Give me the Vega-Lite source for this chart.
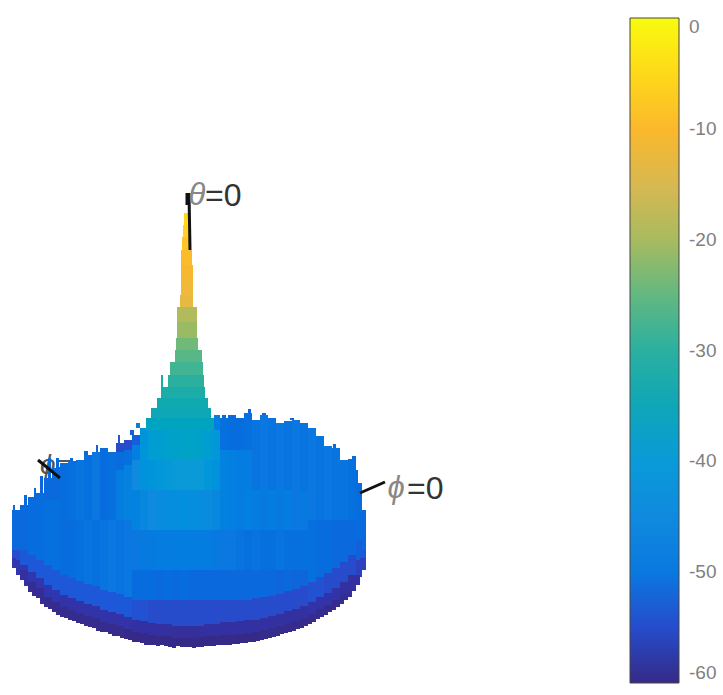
{"$schema":"https://vega.github.io/schema/vega-lite/v6.json","width":723,"height":695,"autosize":"none","padding":0,"background":"white","config":{"view":{"stroke":null}},
"datasets":{
"lines":[{"x":38,"y":460,"x2":60,"y2":478},{"x":189,"y":193,"x2":190,"y2":250},{"x":187,"y":193,"x2":187,"y2":205},{"x":360,"y":493,"x2":385,"y2":482}],
"ticks":[{"x":673,"x2":679,"y":129},{"x":673,"x2":679,"y":240},{"x":673,"x2":679,"y":351},{"x":673,"x2":679,"y":461},{"x":673,"x2":679,"y":572}],
"symbols":[{"x":197,"y":196,"t":"θ"},{"x":396,"y":489,"t":"ϕ"}],
"labels":[{"x":205,"y":196,"t":"=0"},{"x":407,"y":489,"t":"=0"}],
"hidden":[{"x":40,"y":466,"t":"ϕ="}],
"surface":[
{"x":12,"x2":20,"y":510,"y2":550,"db":-52},{"x":12,"x2":20,"y":550,"y2":560,"db":-55},
{"x":20,"x2":28,"y":505,"y2":550,"db":-52},{"x":20,"x2":28,"y":550,"y2":565,"db":-54},{"x":20,"x2":28,"y":565,"y2":572,"db":-57},
{"x":28,"x2":36,"y":497,"y2":555,"db":-51.5},{"x":28,"x2":36,"y":555,"y2":572,"db":-54},{"x":28,"x2":36,"y":572,"y2":584,"db":-57},
{"x":36,"x2":44,"y":493,"y2":560,"db":-51.5},{"x":36,"x2":44,"y":560,"y2":578,"db":-54},{"x":36,"x2":44,"y":578,"y2":590,"db":-57},
{"x":44,"x2":52,"y":478,"y2":500,"db":-52},{"x":44,"x2":52,"y":500,"y2":565,"db":-51},{"x":44,"x2":52,"y":565,"y2":585,"db":-54},{"x":44,"x2":52,"y":585,"y2":599,"db":-57},
{"x":52,"x2":60,"y":468,"y2":500,"db":-52},{"x":52,"x2":60,"y":500,"y2":570,"db":-51},{"x":52,"x2":60,"y":570,"y2":590,"db":-54},{"x":52,"x2":60,"y":590,"y2":604,"db":-57},
{"x":60,"x2":68,"y":463,"y2":520,"db":-51.5},{"x":60,"x2":68,"y":520,"y2":575,"db":-51.5},{"x":60,"x2":68,"y":575,"y2":595,"db":-54},{"x":60,"x2":68,"y":595,"y2":609,"db":-57.5},
{"x":68,"x2":76,"y":461,"y2":520,"db":-51},{"x":68,"x2":76,"y":520,"y2":578,"db":-51.5},{"x":68,"x2":76,"y":578,"y2":598,"db":-54},{"x":68,"x2":76,"y":598,"y2":612,"db":-57.5},
{"x":76,"x2":84,"y":460,"y2":520,"db":-50.5},{"x":76,"x2":84,"y":520,"y2":581,"db":-51},{"x":76,"x2":84,"y":581,"y2":601,"db":-54},{"x":76,"x2":84,"y":601,"y2":615,"db":-57.5},
{"x":84,"x2":92,"y":455,"y2":520,"db":-51},{"x":84,"x2":92,"y":520,"y2":584,"db":-50.5},{"x":84,"x2":92,"y":584,"y2":604,"db":-54},{"x":84,"x2":92,"y":604,"y2":618,"db":-57.5},
{"x":92,"x2":100,"y":452,"y2":520,"db":-50},{"x":92,"x2":100,"y":520,"y2":586,"db":-51},{"x":92,"x2":100,"y":586,"y2":606,"db":-54},{"x":92,"x2":100,"y":606,"y2":620,"db":-57.5},
{"x":100,"x2":108,"y":448,"y2":520,"db":-51.5},{"x":100,"x2":108,"y":520,"y2":590,"db":-50.5},{"x":100,"x2":108,"y":590,"y2":610,"db":-54},{"x":100,"x2":108,"y":610,"y2":624,"db":-57.5},
{"x":108,"x2":116,"y":452,"y2":520,"db":-51},{"x":108,"x2":116,"y":520,"y2":592,"db":-50},{"x":108,"x2":116,"y":592,"y2":612,"db":-54},{"x":108,"x2":116,"y":612,"y2":626,"db":-57.5},
{"x":116,"x2":124,"y":443,"y2":452,"db":-55},{"x":116,"x2":124,"y":452,"y2":470,"db":-51.5},{"x":116,"x2":124,"y":470,"y2":520,"db":-49},{"x":116,"x2":124,"y":520,"y2":594,"db":-50.5},{"x":116,"x2":124,"y":594,"y2":614,"db":-54},{"x":116,"x2":124,"y":614,"y2":628,"db":-57.5},
{"x":124,"x2":132,"y":440,"y2":450,"db":-55},{"x":124,"x2":132,"y":450,"y2":465,"db":-51},{"x":124,"x2":132,"y":465,"y2":520,"db":-47},{"x":124,"x2":132,"y":520,"y2":597,"db":-50},{"x":124,"x2":132,"y":597,"y2":617,"db":-54},{"x":124,"x2":132,"y":617,"y2":631,"db":-57.5},
{"x":132,"x2":140,"y":435,"y2":445,"db":-53},{"x":132,"x2":140,"y":445,"y2":460,"db":-48},{"x":132,"x2":140,"y":460,"y2":490,"db":-45},{"x":132,"x2":140,"y":490,"y2":530,"db":-47},{"x":132,"x2":140,"y":530,"y2":570,"db":-50},{"x":132,"x2":140,"y":570,"y2":600,"db":-51.5},{"x":132,"x2":140,"y":600,"y2":620,"db":-54.5},{"x":132,"x2":140,"y":620,"y2":634,"db":-58},
{"x":140,"x2":148,"y":428,"y2":460,"db":-42},{"x":140,"x2":148,"y":460,"y2":490,"db":-42.5},{"x":140,"x2":148,"y":490,"y2":530,"db":-46},{"x":140,"x2":148,"y":530,"y2":570,"db":-49.5},{"x":140,"x2":148,"y":570,"y2":600,"db":-51.5},{"x":140,"x2":148,"y":600,"y2":621,"db":-54.5},{"x":140,"x2":148,"y":621,"y2":635,"db":-58},
{"x":148,"x2":156,"y":430,"y2":460,"db":-39},{"x":148,"x2":156,"y":460,"y2":490,"db":-41.5},{"x":148,"x2":156,"y":490,"y2":530,"db":-45},{"x":148,"x2":156,"y":530,"y2":570,"db":-49.5},{"x":148,"x2":156,"y":570,"y2":600,"db":-51.5},{"x":148,"x2":156,"y":600,"y2":623,"db":-55},{"x":148,"x2":156,"y":623,"y2":637,"db":-58},
{"x":156,"x2":164,"y":430,"y2":460,"db":-38.5},{"x":156,"x2":164,"y":460,"y2":490,"db":-41},{"x":156,"x2":164,"y":490,"y2":530,"db":-44.5},{"x":156,"x2":164,"y":530,"y2":570,"db":-49},{"x":156,"x2":164,"y":570,"y2":600,"db":-52},{"x":156,"x2":164,"y":600,"y2":624,"db":-55},{"x":156,"x2":164,"y":624,"y2":638,"db":-58},
{"x":164,"x2":172,"y":430,"y2":460,"db":-38},{"x":164,"x2":172,"y":460,"y2":490,"db":-40.5},{"x":164,"x2":172,"y":490,"y2":530,"db":-44},{"x":164,"x2":172,"y":530,"y2":570,"db":-49},{"x":164,"x2":172,"y":570,"y2":600,"db":-51.5},{"x":164,"x2":172,"y":600,"y2":624,"db":-55},{"x":164,"x2":172,"y":624,"y2":638,"db":-58},
{"x":172,"x2":180,"y":430,"y2":460,"db":-37.5},{"x":172,"x2":180,"y":460,"y2":490,"db":-40},{"x":172,"x2":180,"y":490,"y2":530,"db":-44},{"x":172,"x2":180,"y":530,"y2":570,"db":-48.5},{"x":172,"x2":180,"y":570,"y2":600,"db":-52},{"x":172,"x2":180,"y":600,"y2":626,"db":-55},{"x":172,"x2":180,"y":626,"y2":640,"db":-58.5},
{"x":180,"x2":188,"y":430,"y2":460,"db":-37},{"x":180,"x2":188,"y":460,"y2":490,"db":-40},{"x":180,"x2":188,"y":490,"y2":530,"db":-43.5},{"x":180,"x2":188,"y":530,"y2":570,"db":-48.5},{"x":180,"x2":188,"y":570,"y2":600,"db":-51.5},{"x":180,"x2":188,"y":600,"y2":626,"db":-55},{"x":180,"x2":188,"y":626,"y2":640,"db":-58.5},
{"x":188,"x2":196,"y":430,"y2":460,"db":-37},{"x":188,"x2":196,"y":460,"y2":490,"db":-40},{"x":188,"x2":196,"y":490,"y2":530,"db":-44},{"x":188,"x2":196,"y":530,"y2":570,"db":-49},{"x":188,"x2":196,"y":570,"y2":600,"db":-52},{"x":188,"x2":196,"y":600,"y2":626,"db":-55},{"x":188,"x2":196,"y":626,"y2":640,"db":-58.5},
{"x":196,"x2":204,"y":430,"y2":460,"db":-37.5},{"x":196,"x2":204,"y":460,"y2":490,"db":-40},{"x":196,"x2":204,"y":490,"y2":530,"db":-44},{"x":196,"x2":204,"y":530,"y2":570,"db":-48.5},{"x":196,"x2":204,"y":570,"y2":600,"db":-52},{"x":196,"x2":204,"y":600,"y2":626,"db":-55},{"x":196,"x2":204,"y":626,"y2":639,"db":-58.5},
{"x":204,"x2":212,"y":430,"y2":460,"db":-38.5},{"x":204,"x2":212,"y":460,"y2":490,"db":-41},{"x":204,"x2":212,"y":490,"y2":530,"db":-44.5},{"x":204,"x2":212,"y":530,"y2":570,"db":-49},{"x":204,"x2":212,"y":570,"y2":600,"db":-52},{"x":204,"x2":212,"y":600,"y2":624,"db":-55},{"x":204,"x2":212,"y":624,"y2":638,"db":-58},
{"x":212,"x2":220,"y":430,"y2":460,"db":-41},{"x":212,"x2":220,"y":460,"y2":490,"db":-42.5},{"x":212,"x2":220,"y":490,"y2":530,"db":-46},{"x":212,"x2":220,"y":530,"y2":570,"db":-49.5},{"x":212,"x2":220,"y":570,"y2":600,"db":-52},{"x":212,"x2":220,"y":600,"y2":624,"db":-55},{"x":212,"x2":220,"y":624,"y2":638,"db":-58},
{"x":214,"x2":220,"y":415,"y2":430,"db":-48},
{"x":220,"x2":228,"y":418,"y2":450,"db":-51},{"x":220,"x2":228,"y":450,"y2":490,"db":-47},{"x":220,"x2":228,"y":490,"y2":530,"db":-47.5},{"x":220,"x2":228,"y":530,"y2":570,"db":-50},{"x":220,"x2":228,"y":570,"y2":600,"db":-52},{"x":220,"x2":228,"y":600,"y2":622,"db":-55},{"x":220,"x2":228,"y":622,"y2":637,"db":-58},
{"x":228,"x2":236,"y":415,"y2":450,"db":-51.5},{"x":228,"x2":236,"y":450,"y2":490,"db":-48},{"x":228,"x2":236,"y":490,"y2":530,"db":-48},{"x":228,"x2":236,"y":530,"y2":570,"db":-50},{"x":228,"x2":236,"y":570,"y2":600,"db":-52},{"x":228,"x2":236,"y":600,"y2":622,"db":-55},{"x":228,"x2":236,"y":622,"y2":637,"db":-58},
{"x":236,"x2":244,"y":418,"y2":450,"db":-51.5},{"x":236,"x2":244,"y":450,"y2":490,"db":-48.5},{"x":236,"x2":244,"y":490,"y2":530,"db":-48.5},{"x":236,"x2":244,"y":530,"y2":570,"db":-50.5},{"x":236,"x2":244,"y":570,"y2":600,"db":-52},{"x":236,"x2":244,"y":600,"y2":621,"db":-55},{"x":236,"x2":244,"y":621,"y2":636,"db":-58},
{"x":244,"x2":252,"y":413,"y2":450,"db":-51},{"x":244,"x2":252,"y":450,"y2":490,"db":-49},{"x":244,"x2":252,"y":490,"y2":530,"db":-48},{"x":244,"x2":252,"y":530,"y2":570,"db":-51},{"x":244,"x2":252,"y":570,"y2":600,"db":-52},{"x":244,"x2":252,"y":600,"y2":620,"db":-55},{"x":244,"x2":252,"y":620,"y2":635,"db":-58},
{"x":252,"x2":260,"y":420,"y2":490,"db":-50.5},{"x":252,"x2":260,"y":490,"y2":530,"db":-49},{"x":252,"x2":260,"y":530,"y2":570,"db":-50.5},{"x":252,"x2":260,"y":570,"y2":598,"db":-52},{"x":252,"x2":260,"y":598,"y2":620,"db":-55},{"x":252,"x2":260,"y":620,"y2":634,"db":-58},
{"x":260,"x2":268,"y":415,"y2":490,"db":-50},{"x":260,"x2":268,"y":490,"y2":530,"db":-49.5},{"x":260,"x2":268,"y":530,"y2":570,"db":-51},{"x":260,"x2":268,"y":570,"y2":597,"db":-52},{"x":260,"x2":268,"y":597,"y2":618,"db":-55},{"x":260,"x2":268,"y":618,"y2":632,"db":-58},
{"x":268,"x2":276,"y":418,"y2":490,"db":-50.5},{"x":268,"x2":276,"y":490,"y2":530,"db":-49},{"x":268,"x2":276,"y":530,"y2":570,"db":-51},{"x":268,"x2":276,"y":570,"y2":596,"db":-52},{"x":268,"x2":276,"y":596,"y2":616,"db":-55},{"x":268,"x2":276,"y":616,"y2":630,"db":-58},
{"x":276,"x2":284,"y":423,"y2":490,"db":-50},{"x":276,"x2":284,"y":490,"y2":530,"db":-49.5},{"x":276,"x2":284,"y":530,"y2":570,"db":-50.5},{"x":276,"x2":284,"y":570,"y2":594,"db":-52.5},{"x":276,"x2":284,"y":594,"y2":614,"db":-55},{"x":276,"x2":284,"y":614,"y2":628,"db":-58},
{"x":284,"x2":292,"y":421,"y2":490,"db":-50.5},{"x":284,"x2":292,"y":490,"y2":530,"db":-49},{"x":284,"x2":292,"y":530,"y2":570,"db":-51},{"x":284,"x2":292,"y":570,"y2":591,"db":-52},{"x":284,"x2":292,"y":591,"y2":611,"db":-55},{"x":284,"x2":292,"y":611,"y2":625,"db":-58},
{"x":292,"x2":300,"y":420,"y2":490,"db":-50},{"x":292,"x2":300,"y":490,"y2":530,"db":-50},{"x":292,"x2":300,"y":530,"y2":570,"db":-51},{"x":292,"x2":300,"y":570,"y2":589,"db":-52.5},{"x":292,"x2":300,"y":589,"y2":609,"db":-55},{"x":292,"x2":300,"y":609,"y2":623,"db":-58},
{"x":300,"x2":308,"y":423,"y2":490,"db":-50.5},{"x":300,"x2":308,"y":490,"y2":530,"db":-49.5},{"x":300,"x2":308,"y":530,"y2":570,"db":-51},{"x":300,"x2":308,"y":570,"y2":586,"db":-52.5},{"x":300,"x2":308,"y":586,"y2":606,"db":-55},{"x":300,"x2":308,"y":606,"y2":620,"db":-58},
{"x":308,"x2":316,"y":428,"y2":520,"db":-50},{"x":308,"x2":316,"y":520,"y2":582,"db":-51},{"x":308,"x2":316,"y":582,"y2":602,"db":-54.5},{"x":308,"x2":316,"y":602,"y2":616,"db":-57.5},
{"x":316,"x2":324,"y":436,"y2":520,"db":-50.5},{"x":316,"x2":324,"y":520,"y2":577,"db":-51.5},{"x":316,"x2":324,"y":577,"y2":597,"db":-54.5},{"x":316,"x2":324,"y":597,"y2":611,"db":-57.5},
{"x":324,"x2":332,"y":446,"y2":520,"db":-50},{"x":324,"x2":332,"y":520,"y2":573,"db":-51.5},{"x":324,"x2":332,"y":573,"y2":593,"db":-55},{"x":324,"x2":332,"y":593,"y2":607,"db":-57.5},
{"x":332,"x2":340,"y":448,"y2":520,"db":-50.5},{"x":332,"x2":340,"y":520,"y2":568,"db":-52},{"x":332,"x2":340,"y":568,"y2":588,"db":-55},{"x":332,"x2":340,"y":588,"y2":602,"db":-57.5},
{"x":340,"x2":348,"y":460,"y2":520,"db":-50.5},{"x":340,"x2":348,"y":520,"y2":562,"db":-52},{"x":340,"x2":348,"y":562,"y2":582,"db":-55},{"x":340,"x2":348,"y":582,"y2":596,"db":-58},
{"x":348,"x2":356,"y":459,"y2":520,"db":-51},{"x":348,"x2":356,"y":520,"y2":555,"db":-52},{"x":348,"x2":356,"y":555,"y2":575,"db":-55},{"x":348,"x2":356,"y":575,"y2":589,"db":-58},
{"x":356,"x2":362,"y":483,"y2":540,"db":-51.5},{"x":356,"x2":362,"y":540,"y2":560,"db":-53},{"x":356,"x2":362,"y":560,"y2":577,"db":-56},
{"x":362,"x2":366,"y":510,"y2":550,"db":-52},{"x":362,"x2":366,"y":550,"y2":560,"db":-54},
{"x":184,"x2":190,"y":213,"y2":225,"db":-5},{"x":183,"x2":190,"y":225,"y2":237,"db":-6},{"x":182,"x2":190,"y":237,"y2":250,"db":-8},{"x":181,"x2":192,"y":250,"y2":265,"db":-9.5},{"x":181,"x2":193,"y":265,"y2":280,"db":-10.5},{"x":181,"x2":193,"y":280,"y2":295,"db":-11.5},{"x":180,"x2":193,"y":295,"y2":307,"db":-13},{"x":177,"x2":197,"y":307,"y2":322,"db":-19},{"x":177,"x2":197,"y":322,"y2":338,"db":-21},{"x":176,"x2":198,"y":338,"y2":350,"db":-24},{"x":175,"x2":202,"y":350,"y2":362,"db":-26},{"x":170,"x2":203,"y":362,"y2":375,"db":-28},{"x":168,"x2":204,"y":375,"y2":387,"db":-30},{"x":163,"x2":205,"y":387,"y2":398,"db":-31.5},{"x":157,"x2":208,"y":398,"y2":408,"db":-33},{"x":151,"x2":211,"y":408,"y2":418,"db":-34.5},{"x":146,"x2":214,"y":418,"y2":430,"db":-36},{"x":161,"x2":163,"y":375,"y2":398,"db":-32},
{"x":13,"x2":15,"y":505,"y2":510,"db":-52},{"x":24,"x2":27,"y":495,"y2":505,"db":-52},{"x":34,"x2":36,"y":488,"y2":497,"db":-52},{"x":40,"x2":43,"y":476,"y2":493,"db":-52.5},{"x":48,"x2":51,"y":458,"y2":478,"db":-52},{"x":56,"x2":59,"y":458,"y2":468,"db":-52},{"x":70,"x2":73,"y":458,"y2":461,"db":-52},{"x":84,"x2":88,"y":451,"y2":455,"db":-52},{"x":96,"x2":98,"y":445,"y2":452,"db":-53},{"x":118,"x2":120,"y":435,"y2":443,"db":-54},{"x":130,"x2":134,"y":430,"y2":435,"db":-53},{"x":136,"x2":140,"y":423,"y2":428,"db":-48},{"x":248,"x2":251,"y":409,"y2":413,"db":-52},{"x":222,"x2":226,"y":415,"y2":418,"db":-52},{"x":262,"x2":266,"y":413,"y2":415,"db":-52},{"x":290,"x2":294,"y":418,"y2":420,"db":-52},{"x":333,"x2":336,"y":444,"y2":448,"db":-52},{"x":352,"x2":356,"y":456,"y2":459,"db":-52},{"x":356,"x2":358,"y":470,"y2":483,"db":-52},
{"x":12,"x2":16,"y":558,"y2":568,"db":-57},{"x":16,"x2":20,"y":560,"y2":575,"db":-57},{"x":20,"x2":24,"y":570,"y2":580,"db":-58},{"x":24,"x2":28,"y":570,"y2":586,"db":-58},{"x":28,"x2":32,"y":582,"y2":592,"db":-59},{"x":32,"x2":36,"y":582,"y2":596,"db":-59},{"x":36,"x2":40,"y":588,"y2":598,"db":-59},{"x":40,"x2":44,"y":588,"y2":604,"db":-59},{"x":44,"x2":48,"y":597,"y2":607,"db":-59.5},{"x":48,"x2":52,"y":597,"y2":609,"db":-59.5},{"x":52,"x2":56,"y":602,"y2":612,"db":-59.5},{"x":56,"x2":60,"y":602,"y2":615,"db":-59.5},{"x":60,"x2":64,"y":607,"y2":617,"db":-59.5},{"x":64,"x2":68,"y":607,"y2":618,"db":-59.5},{"x":68,"x2":72,"y":610,"y2":620,"db":-59.5},{"x":72,"x2":76,"y":610,"y2":621,"db":-59.5},{"x":76,"x2":80,"y":613,"y2":623,"db":-59.5},{"x":80,"x2":84,"y":613,"y2":624,"db":-59.5},{"x":84,"x2":88,"y":616,"y2":626,"db":-59.5},{"x":88,"x2":92,"y":616,"y2":627,"db":-59.5},{"x":92,"x2":96,"y":618,"y2":628,"db":-59.5},{"x":96,"x2":100,"y":618,"y2":631,"db":-59.5},{"x":100,"x2":104,"y":622,"y2":632,"db":-59.5},{"x":104,"x2":108,"y":622,"y2":632,"db":-59.5},{"x":108,"x2":112,"y":624,"y2":634,"db":-59.5},{"x":112,"x2":116,"y":624,"y2":636,"db":-59.5},{"x":116,"x2":120,"y":626,"y2":636,"db":-59.5},{"x":120,"x2":124,"y":626,"y2":638,"db":-59.5},{"x":124,"x2":128,"y":629,"y2":639,"db":-60},{"x":128,"x2":132,"y":629,"y2":640,"db":-60},{"x":132,"x2":136,"y":632,"y2":642,"db":-60},{"x":136,"x2":140,"y":632,"y2":642,"db":-60},{"x":140,"x2":144,"y":633,"y2":643,"db":-60},{"x":144,"x2":148,"y":633,"y2":645,"db":-60},{"x":148,"x2":152,"y":635,"y2":645,"db":-60},{"x":152,"x2":156,"y":635,"y2":645,"db":-60},{"x":156,"x2":160,"y":636,"y2":646,"db":-60},{"x":160,"x2":164,"y":636,"y2":645,"db":-60},{"x":164,"x2":168,"y":636,"y2":646,"db":-60},{"x":168,"x2":172,"y":636,"y2":647,"db":-60},{"x":172,"x2":176,"y":638,"y2":648,"db":-60},{"x":176,"x2":180,"y":638,"y2":646,"db":-60},{"x":180,"x2":184,"y":638,"y2":647,"db":-60},{"x":184,"x2":188,"y":638,"y2":647,"db":-60},{"x":188,"x2":192,"y":638,"y2":647,"db":-60},{"x":192,"x2":196,"y":638,"y2":648,"db":-60},{"x":196,"x2":200,"y":637,"y2":647,"db":-60},{"x":200,"x2":204,"y":637,"y2":647,"db":-60},{"x":204,"x2":208,"y":636,"y2":646,"db":-60},{"x":208,"x2":212,"y":636,"y2":646,"db":-60},{"x":212,"x2":216,"y":636,"y2":646,"db":-60},{"x":216,"x2":220,"y":636,"y2":645,"db":-60},{"x":220,"x2":224,"y":635,"y2":645,"db":-60},{"x":224,"x2":228,"y":635,"y2":645,"db":-60},{"x":228,"x2":232,"y":635,"y2":645,"db":-60},{"x":232,"x2":236,"y":635,"y2":644,"db":-60},{"x":236,"x2":240,"y":634,"y2":644,"db":-60},{"x":240,"x2":244,"y":634,"y2":643,"db":-60},{"x":244,"x2":248,"y":633,"y2":643,"db":-60},{"x":248,"x2":252,"y":633,"y2":642,"db":-60},{"x":252,"x2":256,"y":632,"y2":642,"db":-60},{"x":256,"x2":260,"y":632,"y2":641,"db":-60},{"x":260,"x2":264,"y":630,"y2":640,"db":-59.5},{"x":264,"x2":268,"y":630,"y2":639,"db":-59.5},{"x":268,"x2":272,"y":628,"y2":638,"db":-59.5},{"x":272,"x2":276,"y":628,"y2":637,"db":-59.5},{"x":276,"x2":280,"y":626,"y2":636,"db":-59.5},{"x":280,"x2":284,"y":626,"y2":634,"db":-59.5},{"x":284,"x2":288,"y":623,"y2":633,"db":-59.5},{"x":288,"x2":292,"y":623,"y2":632,"db":-59.5},{"x":292,"x2":296,"y":621,"y2":631,"db":-59.5},{"x":296,"x2":300,"y":621,"y2":629,"db":-59.5},{"x":300,"x2":304,"y":618,"y2":628,"db":-59.5},{"x":304,"x2":308,"y":618,"y2":626,"db":-59.5},{"x":308,"x2":312,"y":614,"y2":624,"db":-59.5},{"x":312,"x2":316,"y":614,"y2":622,"db":-59.5},{"x":316,"x2":320,"y":609,"y2":619,"db":-59.5},{"x":320,"x2":324,"y":609,"y2":617,"db":-59.5},{"x":324,"x2":328,"y":605,"y2":615,"db":-59.5},{"x":328,"x2":332,"y":605,"y2":612,"db":-59.5},{"x":332,"x2":336,"y":600,"y2":610,"db":-59.5},{"x":336,"x2":340,"y":600,"y2":607,"db":-59.5},{"x":340,"x2":344,"y":594,"y2":604,"db":-59},{"x":344,"x2":348,"y":594,"y2":600,"db":-59},{"x":348,"x2":352,"y":587,"y2":597,"db":-58.5},{"x":352,"x2":356,"y":587,"y2":591,"db":-58.5},{"x":356,"x2":360,"y":575,"y2":585,"db":-58},{"x":360,"x2":366,"y":558,"y2":570,"db":-56}
]},
"layer":[
{"data":{"name":"hidden"},"mark":{"type":"text","align":"left","baseline":"middle","font":"Liberation Sans","fontSize":28,"fontStyle":"italic","color":"#555555"},"encoding":{"x":{"field":"x","type":"quantitative","scale":{"domain":[0,723]},"axis":null},"y":{"field":"y","type":"quantitative","scale":{"domain":[695,0]},"axis":null},"text":{"field":"t"}}},
{"data":{"name":"surface"},"mark":{"type":"rect"},"encoding":{"x":{"field":"x","type":"quantitative","scale":{"domain":[0,723]},"axis":null},"x2":{"field":"x2"},"y":{"field":"y","type":"quantitative","scale":{"domain":[695,0]},"axis":null},"y2":{"field":"y2"},"color":{"field":"db","type":"quantitative","scale":{"domain":[-60,-57,-54,-50,-45,-40,-35,-30,-25,-20,-15,-10,0],"range":["#352a87","#3035b0","#1c58d8","#0a78e0","#0f8ade","#0a9ad8","#0fa6b8","#2bb0a0","#62b880","#a8bb60","#d8b850","#fbb82c","#f9fb0e"]},"legend":{"title":null,"orient":"none","legendX":630,"legendY":18,"direction":"vertical","gradientLength":665,"gradientThickness":49,"gradientStrokeColor":"#444444","gradientStrokeWidth":1,"values":[0,-10,-20,-30,-40,-50,-60],"labelExpr":"''+datum.value","labelFont":"Liberation Sans","labelFontSize":19,"labelColor":"#808080","labelOffset":10,"labelOverlap":false}}}},
{"data":{"name":"lines"},"mark":{"type":"rule","color":"#111111","strokeWidth":3},"encoding":{"x":{"field":"x","type":"quantitative","scale":{"domain":[0,723]},"axis":null},"x2":{"field":"x2"},"y":{"field":"y","type":"quantitative","scale":{"domain":[695,0]},"axis":null},"y2":{"field":"y2"}}},
{"data":{"name":"ticks"},"mark":{"type":"rule","color":"#444444","strokeWidth":1},"encoding":{"x":{"field":"x","type":"quantitative","scale":{"domain":[0,723]},"axis":null},"x2":{"field":"x2"},"y":{"field":"y","type":"quantitative","scale":{"domain":[695,0]},"axis":null}}},
{"data":{"name":"symbols"},"mark":{"type":"text","align":"center","baseline":"middle","font":"Liberation Sans","fontSize":31,"fontStyle":"italic","color":"#888888"},"encoding":{"x":{"field":"x","type":"quantitative","scale":{"domain":[0,723]},"axis":null},"y":{"field":"y","type":"quantitative","scale":{"domain":[695,0]},"axis":null},"text":{"field":"t"}}},
{"data":{"name":"labels"},"mark":{"type":"text","align":"left","baseline":"middle","font":"Liberation Sans","fontSize":32,"color":"#333333"},"encoding":{"x":{"field":"x","type":"quantitative","scale":{"domain":[0,723]},"axis":null},"y":{"field":"y","type":"quantitative","scale":{"domain":[695,0]},"axis":null},"text":{"field":"t"}}}
]}
